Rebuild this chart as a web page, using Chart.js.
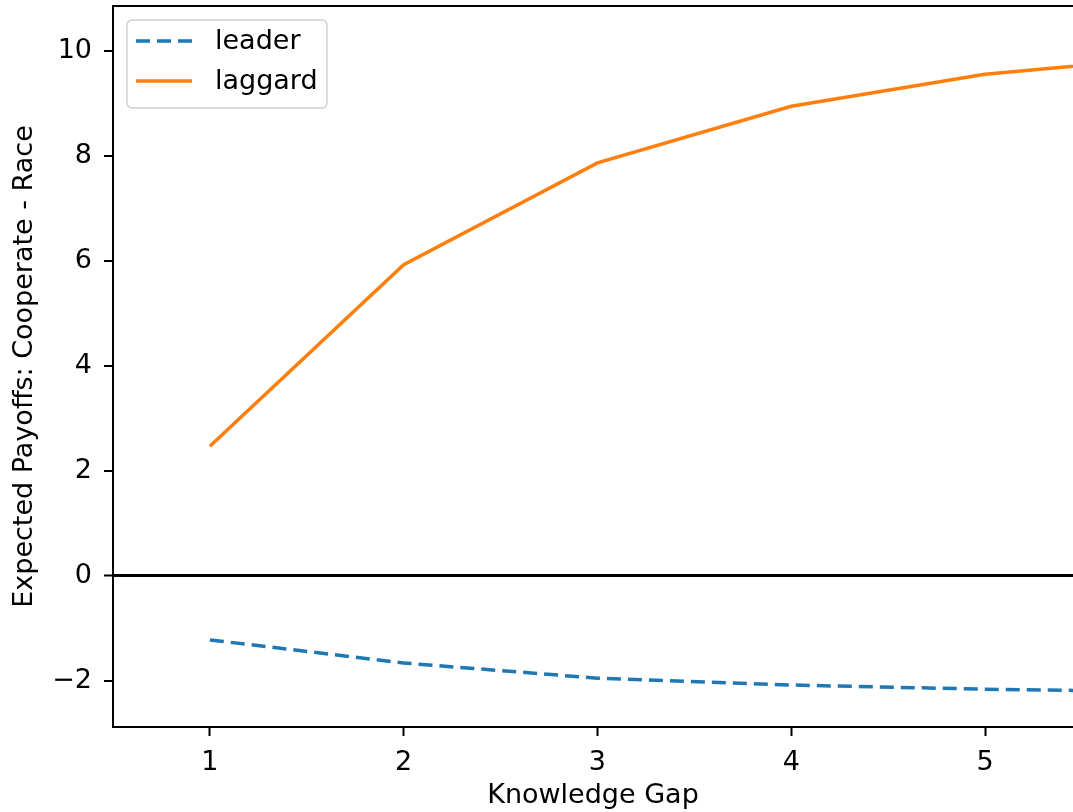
<!DOCTYPE html>
<html>
<head>
<meta charset="utf-8">
<script src="https://cdn.jsdelivr.net/npm/chart.js@4.4.1/dist/chart.umd.min.js"></script>
<style>
  html, body { margin: 0; padding: 0; background: #fff; overflow: hidden; }
  canvas { display: block; }
</style>
</head>
<body>
<canvas id="payoffChart" width="1073" height="812"></canvas>
<script>
// knowledge gap values and the two payoff differences
const knowledgeGap = [1, 2, 3, 4, 5, 6];
const leaderPayoff = [-1.22, -1.66, -1.95, -2.08, -2.16, -2.21];
const laggardPayoff = [2.47, 5.93, 7.87, 8.95, 9.56, 9.89];
const seriesNames = ['leader', 'laggard'];
const xTicks = [1, 2, 3, 4, 5];
const yTicks = [-2, 0, 2, 4, 6, 8, 10];

const FONT = { family: "'DejaVu Sans', sans-serif", size: 27 };
const BLUE = '#1f77b4';
const ORANGE = '#ff7f0e';

function toPoints(ys) {
  return knowledgeGap.map((x, i) => ({ x, y: ys[i] }));
}

function fmt(v) {
  return v < 0 ? '\u2212' + Math.abs(v) : String(v);
}

// keep chart.js from reserving room for half of the edge labels
function noEdgePadding(scale) {
  scale.paddingTop = 0;
  scale.paddingBottom = 0;
  scale.paddingLeft = 0;
  scale.paddingRight = 0;
}

// matplotlib-style boxed legend in the upper left of the plot area
const boxLegend = {
  id: 'boxLegend',
  afterDatasetsDraw(chart) {
    const { ctx, chartArea } = chart;
    const x0 = chartArea.left + 14;
    const y0 = chartArea.top + 14;
    const w = 200;
    const h = 88;
    ctx.save();
    ctx.beginPath();
    ctx.roundRect(x0, y0, w, h, 5);
    ctx.fillStyle = 'rgba(255,255,255,0.8)';
    ctx.fill();
    ctx.strokeStyle = '#d0d0d0';
    ctx.lineWidth = 1.5;
    ctx.stroke();

    ctx.font = `${FONT.size}px ${FONT.family}`;
    ctx.textBaseline = 'middle';
    ctx.fillStyle = '#000';
    chart.data.datasets.forEach((ds, i) => {
      const cy = y0 + 21 + i * 40;
      ctx.beginPath();
      ctx.setLineDash(ds.borderDash || []);
      ctx.strokeStyle = ds.borderColor;
      ctx.lineWidth = ds.borderWidth;
      ctx.moveTo(x0 + 9, cy);
      ctx.lineTo(x0 + 65, cy);
      ctx.stroke();
      ctx.setLineDash([]);
      ctx.fillText(ds.label, x0 + 88, cy + 1);
    });
    ctx.restore();
  },
};

new Chart(document.getElementById('payoffChart'), {
  type: 'line',
  data: {
    datasets: [
      {
        label: seriesNames[0],
        data: toPoints(leaderPayoff),
        borderColor: BLUE,
        borderWidth: 3.5,
        borderDash: [14, 7],
        pointRadius: 0,
        tension: 0,
        fill: false,
      },
      {
        label: seriesNames[1],
        data: toPoints(laggardPayoff),
        borderColor: ORANGE,
        borderWidth: 3.5,
        pointRadius: 0,
        tension: 0,
        fill: false,
      },
    ],
  },
  options: {
    responsive: false,
    animation: false,
    layout: { padding: { top: 6, left: 0, right: 0, bottom: 0 } },
    plugins: {
      legend: { display: false },
      tooltip: { enabled: false },
    },
    scales: {
      x: {
        type: 'linear',
        position: 'bottom',
        min: 0.5,
        max: 5.454,
        afterFit: (scale) => { scale.height = 85; noEdgePadding(scale); },
        afterBuildTicks: (scale) => { scale.ticks = xTicks.map((v) => ({ value: v })); },
        ticks: {
          color: '#000',
          font: FONT,
          padding: 11,
          maxRotation: 0,
          callback: (v) => fmt(v),
        },
        grid: {
          drawOnChartArea: false,
          drawTicks: true,
          tickLength: 9,
          tickColor: '#000',
          tickWidth: 2,
        },
        border: { display: true, color: '#000', width: 2 },
        title: {
          display: true,
          text: 'Knowledge Gap',
          color: '#000',
          font: FONT,
          padding: { top: 0, bottom: 0 },
        },
      },
      xTop: {
        type: 'linear',
        position: 'top',
        min: 0.5,
        max: 5.454,
        afterFit: (scale) => { scale.height = 0; noEdgePadding(scale); },
        ticks: { display: false },
        grid: { display: false, drawTicks: false },
        border: { display: true, color: '#000', width: 2 },
      },
      y: {
        type: 'linear',
        min: -2.88,
        max: 10.86,
        afterFit: (scale) => { scale.width = 113; noEdgePadding(scale); },
        afterBuildTicks: (scale) => { scale.ticks = yTicks.map((v) => ({ value: v })); },
        ticks: {
          color: '#000',
          font: FONT,
          padding: 12,
          callback: (v) => fmt(v),
        },
        grid: {
          drawTicks: true,
          tickLength: 9,
          tickColor: '#000',
          tickWidth: 2,
          color: (c) => (c.tick && c.tick.value === 0 ? '#000' : 'rgba(0,0,0,0)'),
          lineWidth: (c) => (c.tick && c.tick.value === 0 ? 3 : 0),
        },
        border: { display: true, color: '#000', width: 2 },
        title: {
          display: true,
          text: 'Expected Payoffs: Cooperate - Race',
          color: '#000',
          font: FONT,
          padding: { top: 9, bottom: 0 },
        },
      },
    },
  },
  plugins: [boxLegend],
});
</script>
</body>
</html>
